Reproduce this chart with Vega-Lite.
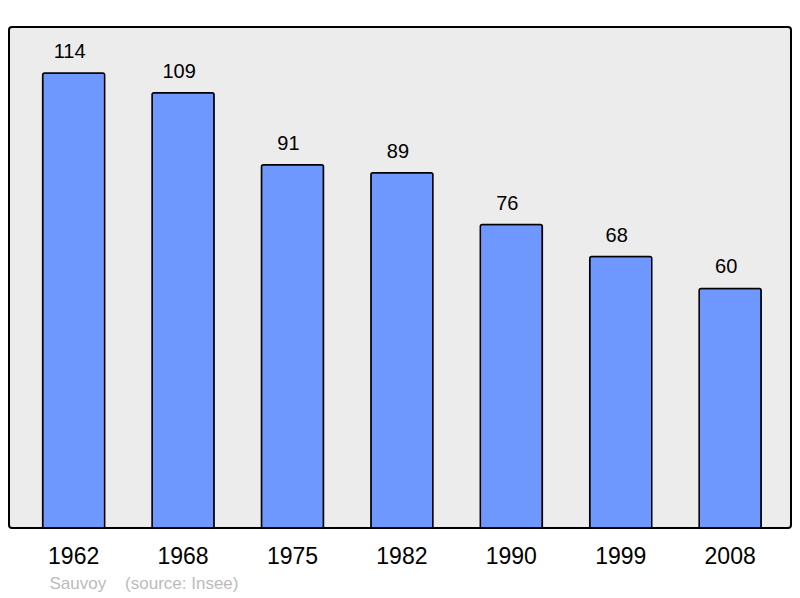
{
  "$schema": "https://vega.github.io/schema/vega-lite/v6.json",
  "width": 782,
  "height": 501,
  "autosize": {"type": "none"},
  "padding": {"left": 9, "top": 27, "right": 9, "bottom": 70},
  "background": "#ffffff",
  "config": {
    "view": {"fill": "#ececec", "stroke": "#000000", "strokeWidth": 2, "cornerRadius": 3},
    "font": "Liberation Sans"
  },
  "data": {
    "values": [
      {"year": "1962", "pop": 114},
      {"year": "1968", "pop": 109},
      {"year": "1975", "pop": 91},
      {"year": "1982", "pop": 89},
      {"year": "1990", "pop": 76},
      {"year": "1999", "pop": 68},
      {"year": "2008", "pop": 60}
    ]
  },
  "encoding": {
    "x": {
      "field": "year",
      "type": "nominal",
      "sort": null,
      "scale": {"paddingInner": 0.433, "paddingOuter": 0.29, "align": 0.53},
      "axis": {
        "title": "Sauvoy\u00a0\u00a0\u00a0\u00a0(source: Insee)",
        "titleFont": "Liberation Sans",
        "titleFontSize": 17,
        "titleFontWeight": "normal",
        "titleColor": "#bbbbbb",
        "titleAnchor": "start",
        "titleAlign": "left",
        "titleBaseline": "alphabetic",
        "titleX": 40,
        "titleY": 60,
        "labelAngle": 0,
        "labelFont": "Liberation Sans",
        "labelFontSize": 23,
        "labelColor": "#000000",
        "labelPadding": 17,
        "domain": false,
        "ticks": false,
        "grid": false
      }
    },
    "y": {
      "field": "pop",
      "type": "quantitative",
      "scale": {"domain": [0, 125.5], "nice": false},
      "axis": null
    }
  },
  "layer": [
    {
      "mark": {"type": "bar", "fill": "#6f98ff", "stroke": "#000000", "strokeWidth": 1.5, "cornerRadiusTopLeft": 2, "cornerRadiusTopRight": 2}
    },
    {
      "mark": {"type": "text", "baseline": "alphabetic", "dy": -15, "dx": -4, "fontSize": 20, "font": "Liberation Sans", "color": "#000000"},
      "encoding": {"text": {"field": "pop", "type": "quantitative"}}
    }
  ]
}
